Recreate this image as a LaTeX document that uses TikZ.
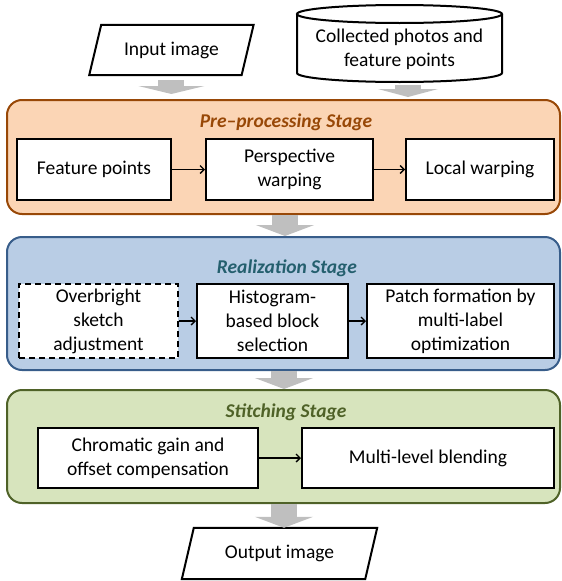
\documentclass[tikz,border=0pt]{standalone}
\usepackage{fontspec}
\setmainfont{Carlito}
\usepackage{xcolor}
\definecolor{porange}{HTML}{FBD5B5}
\definecolor{dorange}{HTML}{984807}
\definecolor{pblue}{HTML}{B9CDE5}
\definecolor{dblue}{HTML}{385D8A}
\definecolor{tblue}{HTML}{245F6E}
\definecolor{pgreen}{HTML}{D7E4BD}
\definecolor{dgreen}{HTML}{4F6228}
\definecolor{agray}{HTML}{BFBFBF}
\usetikzlibrary{arrows.meta}
\begin{document}
\begin{tikzpicture}[x=1pt,y=1pt,font=\fontsize{19.5}{24}\selectfont,
		box/.style={draw,line width=2pt,fill=white,align=center,inner sep=0pt},
		stage/.style={draw,line width=2pt,rounded corners=15pt,inner sep=0pt},
		title/.style={anchor=base,font=\fontsize{19.5}{24}\selectfont\bfseries\itshape},
		iobox/.style={inner sep=0pt},
		slant/.style={line width=2pt,line join=miter},
		flow/.style={line width=1.3pt,-{Straight Barb[length=4pt,width=8pt]}},
		big/.style={agray,line width=26pt,-{Triangle[width=58pt,length=11pt]}}]
				\useasboundingbox (0,0) rectangle (562,-581);
				% inputs
				\node[iobox,minimum width=152,minimum height=50] (in) at (171.4,-50) {Input image};
				\draw[slant] ([xshift=6]in.north west) -- ([xshift=6]in.north east) -- ([xshift=-6]in.south east) -- ([xshift=-6]in.south west) -- cycle;
				\draw[line width=2pt,fill=white] (297,-14) -- (297,-73) arc[start angle=180,end angle=360,x radius=102.5,y radius=9] -- (502,-14);
				\draw[line width=2pt,fill=white] (399.5,-14) ellipse [x radius=102.5,y radius=9];
				\node[align=center] (db) at (399.5,-49) {Collected photos and\\feature points};
				\coordinate (dbb) at (408,-82);
				% stages
				\node[stage,fill=porange,draw=dorange,minimum width=553,minimum height=114] (pre) at (283.5,-157) {};
				\node[stage,fill=pblue,draw=dblue,minimum width=553,minimum height=133] (real) at (283.5,-303.5) {};
				\node[stage,fill=pgreen,draw=dgreen,minimum width=553,minimum height=113] (stit) at (283.5,-446.5) {};
				\node[title,text=dorange] (pret) at (286,-127) {Pre--processing Stage};
				\node[title,text=tblue] (realt) at (287,-273) {Realization Stage};
				\node[title,text=dgreen] (stitt) at (286,-417) {Stitching Stage};
				% steps
				\node[box,minimum width=154,minimum height=61] (fp) at (94,-169.5) {Feature points};
				\node[box,minimum width=167,minimum height=61] (pw) at (289.5,-169.5) {Perspective\\warping};
				\node[box,minimum width=148,minimum height=61] (lw) at (480,-169.5) {Local warping};
				\node[box,dash pattern=on 6pt off 4pt,minimum width=159,minimum height=74] (ob) at (98.5,-321) {Overbright\\sketch\\adjustment};
				\node[box,minimum width=151,minimum height=74] (hb) at (272.5,-321) {Histogram-\\based block\\selection};
				\node[box,minimum width=187,minimum height=74] (pf) at (460.5,-321) {Patch formation by\\multi-label\\optimization};
				\node[box,minimum width=220,minimum height=60] (cg) at (148,-458) {Chromatic gain and\\offset compensation};
				\node[box,minimum width=252,minimum height=60] (mb) at (428,-458) {Multi-level blending};
				\node[iobox,minimum width=183,minimum height=51] (out) at (279.5,-553.5) {Output image};
				\draw[slant] ([xshift=6]out.north west) -- ([xshift=6]out.north east) -- ([xshift=-6]out.south east) -- ([xshift=-6]out.south west) -- cycle;
				% connectors
				\draw[flow] (fp) -- (pw);
				\draw[flow] (pw) -- (lw);
				\draw[flow] (ob) -- (hb);
				\draw[flow] (hb) -- (pf);
				\draw[flow] (cg) -- (mb);
				\draw[big,-{Triangle[width=66pt,length=8pt]}] ([yshift=-5]in.south) -- ([yshift=5]in.south |- pre.north);
				\draw[big,-{Triangle[width=60pt,length=8pt]}] ([yshift=-3]dbb) -- ([yshift=2]dbb |- pre.north);
				\draw[big] ([xshift=1.5]pre.south) -- ([xshift=1.5]real.north);
				\draw[big] ([xshift=0.5]real.south) -- ([xshift=0.5]stit.north);
				\draw[big] ([xshift=0.5]stit.south) -- ([xshift=0.5]stit.south |- out.north);
			\end{tikzpicture}
\end{document}
